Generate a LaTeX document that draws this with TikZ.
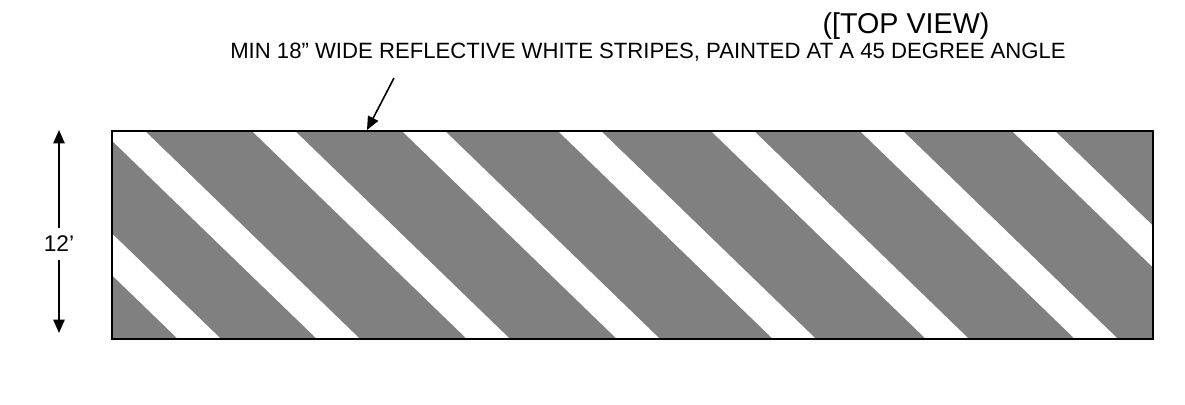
\documentclass[tikz,border=0pt]{standalone}
\usepackage{fontspec}
\setmainfont{Liberation Sans}
\usetikzlibrary{arrows.meta}
\definecolor{padgray}{RGB}{128,128,128}
\begin{document}
\begin{tikzpicture}[x=0.75pt, y=-0.75pt,
    pointer/.style={-{Triangle[length=10pt, width=8.5pt]}, line width=1.2pt}]
    \useasboundingbox (0,0) rectangle (1185,404);

    % texts
    \node[font=\fontsize{21.5}{24}\selectfont] (view) at (906,26) {([TOP VIEW)};
    \node[font=\fontsize{16.6}{19}\selectfont] (note) at (648,52) {MIN 18” WIDE REFLECTIVE WHITE STRIPES, PAINTED AT A 45 DEGREE ANGLE};
    \node[font=\fontsize{17}{19}\selectfont] (width) at (59,244) {12’};

    % the striped pad
    \coordinate (nw) at (112,131);
    \coordinate (se) at (1153,339);
    \fill[padgray] (nw) rectangle (se);
    \begin{scope}
        \clip (nw) rectangle (se);
        \foreach \s in {-37,102,252,402,558,711,860,1012}
            \fill[white] (\s,131) -- ++(43,0) -- ++(215,208) -- ++(-43,0) -- cycle;
    \end{scope}
    \draw[line width=2pt] (nw) rectangle (se);

    % arrows
    \coordinate (start) at (394,78);
    \coordinate (tip) at (367,130);
    \coordinate (top) at (59,130);
    \coordinate (bottom) at (59,333);
    \draw[pointer] (start) -- (tip);
    \draw[pointer] (width.north) ++(0,-3) -- (top);
    \draw[pointer] (width.south) ++(0,3) -- (bottom);
\end{tikzpicture}
\end{document}
